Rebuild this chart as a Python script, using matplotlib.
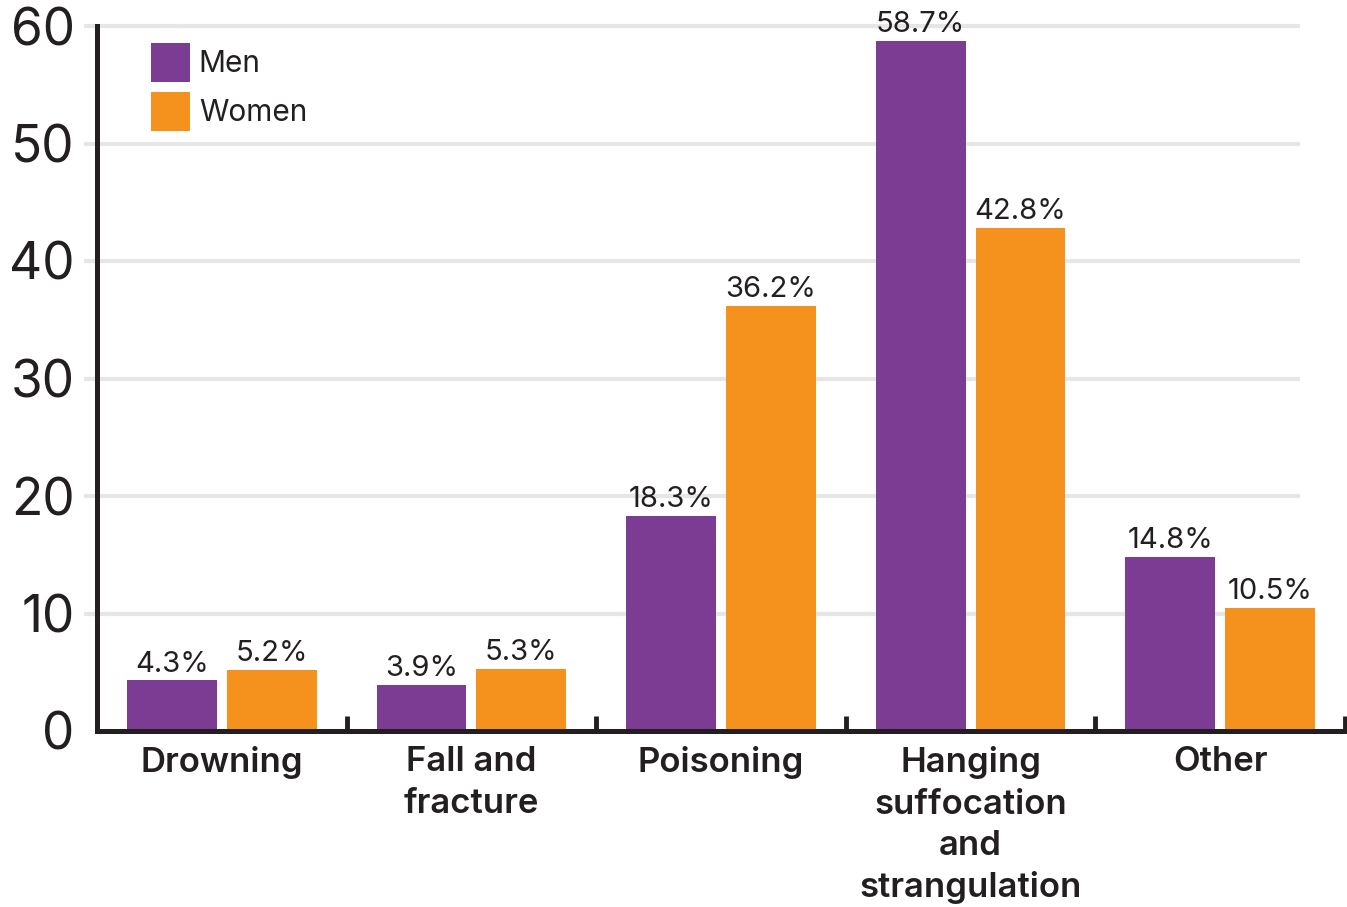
import matplotlib
matplotlib.use("Agg")
import matplotlib.pyplot as plt
import numpy as np

categories = ["Drowning", "Fall and\nfracture", "Poisoning", "Hanging\nsuffocation\nand\nstrangulation", "Other"]
men = [4.3, 3.9, 18.3, 58.7, 14.8]
women = [5.2, 5.3, 36.2, 42.8, 10.5]
yticks = [0, 10, 20, 30, 40, 50, 60]

PURPLE = "#7d3c94"
ORANGE = "#f5921e"
DARK = "#231f20"

plt.rcParams['font.family'] = ['Inter', 'DejaVu Sans']

fig = plt.figure(figsize=(13.47, 9.07), dpi=100)
ax = fig.add_axes([97/1347, 176/907, 1248/1347, 705/907])

x = np.arange(len(categories))
b1 = ax.bar(x - 0.2, men, width=0.36, color=PURPLE, label="Men", zorder=3)
b2 = ax.bar(x + 0.2, women, width=0.36, color=ORANGE, label="Women", zorder=3)

fmt = lambda v: f"{v:.1f}%"
ax.bar_label(b1, labels=[fmt(v) for v in men], padding=2, fontsize=21, color=DARK)
ax.bar_label(b2, labels=[fmt(v) for v in women], padding=2, fontsize=21, color=DARK)

ax.set_xlim(-0.5, 4.5)
ax.set_ylim(0, 60)

# gridlines
ax.hlines(yticks[1:], -0.552, 4.32, colors="#e6e6e6", linewidth=3, zorder=1, clip_on=False)

ax.set_yticks(yticks)
ax.set_yticklabels([str(t) for t in yticks], fontsize=37, color=DARK)
ax.tick_params(axis='y', length=0, pad=16)

ax.set_xticks(x)
ax.set_xticklabels(categories, fontsize=25, fontweight='semibold', color=DARK, linespacing=1.37)
ax.tick_params(axis='x', which='major', length=0, pad=11)
ax.set_xticks(np.arange(0.5, 5.0, 1.0), minor=True)
ax.tick_params(axis='x', which='minor', direction='in', length=11, width=3.5, color=DARK)

for s in ['top', 'right']:
    ax.spines[s].set_visible(False)
for s in ['left', 'bottom']:
    ax.spines[s].set_linewidth(3.6)
    ax.spines[s].set_color(DARK)
    ax.spines[s].set_zorder(4)

leg = ax.legend(loc='upper left', bbox_to_anchor=((151-97)/1248, 1-(43-26)/705),
                frameon=False, fontsize=21.5, handlelength=1.3, handleheight=1.63,
                labelspacing=0.33, handletextpad=0.3, borderpad=0, borderaxespad=0)
for t in leg.get_texts():
    t.set_color(DARK)

fig.savefig("out.png", dpi=100)
